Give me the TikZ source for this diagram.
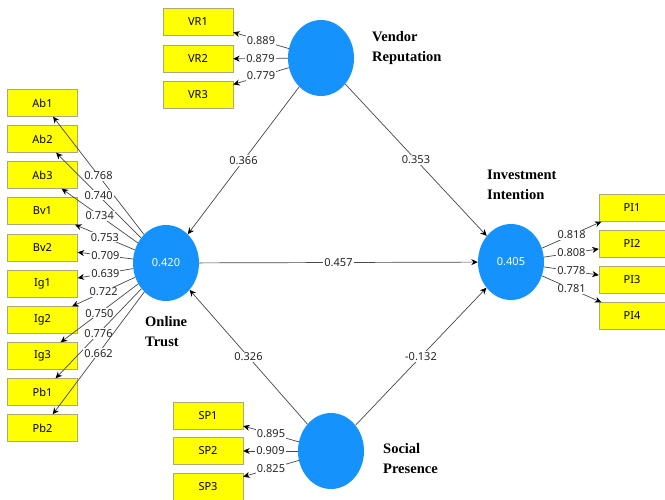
\documentclass[tikz,border=0pt]{standalone}
\usepackage{fontspec}
\setmainfont{Noto Sans}
\newfontfamily\titlefont{Liberation Serif}
\usetikzlibrary{arrows.meta,shapes.geometric}

\definecolor{plsblue}{RGB}{22,146,252}
\definecolor{plsyellow}{RGB}{255,255,0}
\definecolor{boxline}{RGB}{170,170,120}

\tikzset{
    latent/.style={ellipse, fill=plsblue, minimum width=66pt, minimum height=76pt,
        inner sep=0pt, text=white, font=\fontsize{11}{13}\selectfont},
    item/.style={draw=boxline, fill=plsyellow, minimum width=70pt, minimum height=27pt,
        inner sep=0pt, font=\fontsize{11}{13}\selectfont},
    load/.style={draw=black!72, line width=0.7pt,
        -{Stealth[length=6.5pt,width=6pt,color=black]}},
    coef/.style={fill=white, inner sep=1pt, text=black!85, font=\fontsize{11}{13}\selectfont},
    title/.style={anchor=west, align=left, inner sep=0pt,
        font=\titlefont\bfseries\fontsize{14.5}{20}\selectfont}
}

\begin{document}
\begin{tikzpicture}[x=1pt,y=-1pt]
    \useasboundingbox (0,0) rectangle (665,499);

    % latent variables
    \node[latent] (vr) at (321,58) {};
    \node[latent] (ot) at (166,263) {0.420};
    \node[latent] (ii) at (511,262) {0.405};
    \node[latent] (sp) at (331,451) {};

    \node[title] (vrname) at (372,48) {Vendor\\Reputation};
    \node[title] (otname) at (145,332) {Online\\Trust};
    \node[title] (iiname) at (487,185) {Investment\\Intention};
    \node[title] (spname) at (383,459) {Social\\Presence};

    % indicators
    \foreach \n/\y in {VR1/22,VR2/59,VR3/95}
        \node[item] (\n) at (198,\y) {\n};
    \foreach \n/\y in {Ab1/103,Ab2/139,Ab3/175,Bv1/211,Bv2/248,
        Ig1/284,Ig2/320,Ig3/356,Pb1/392,Pb2/428}
        \node[item] (\n) at (42.5,\y) {\n};
    \foreach \n/\y in {PI1/208,PI2/244,PI3/280,PI4/316}
        \node[item, minimum width=66pt] (\n) at (632,\y) {\n};
    \foreach \n/\y in {SP1/416,SP2/451,SP3/487}
        \node[item] (\n) at (208,\y) {\n};

    % outer loadings
    \foreach \n/\v in {VR1/0.889,VR2/0.879,VR3/0.779}
        \draw[load] (vr) -- node[coef] {\v} (\n);
    \foreach \n/\v in {Ab1/0.768,Ab2/0.740,Ab3/0.734,Bv1/0.753,Bv2/0.709,
        Ig1/0.639,Ig2/0.722,Ig3/0.750,Pb1/0.776,Pb2/0.662}
        \draw[load] (ot) -- node[coef] {\v} (\n);
    \foreach \n/\v in {PI1/0.818,PI2/0.808,PI3/0.778,PI4/0.781}
        \draw[load] (ii) -- node[coef] {\v} (\n);
    \foreach \n/\v in {SP1/0.895,SP2/0.909,SP3/0.825}
        \draw[load] (sp) -- node[coef] {\v} (\n);

    % path coefficients
    \draw[load] (vr) -- node[coef] {0.366} (ot);
    \draw[load] (vr) -- node[coef] {0.353} (ii);
    \draw[load] (ot) -- node[coef] {0.457} (ii);
    \draw[load] (sp) -- node[coef] {0.326} (ot);
    \draw[load] (sp) -- node[coef] {-0.132} (ii);
\end{tikzpicture}
\end{document}
